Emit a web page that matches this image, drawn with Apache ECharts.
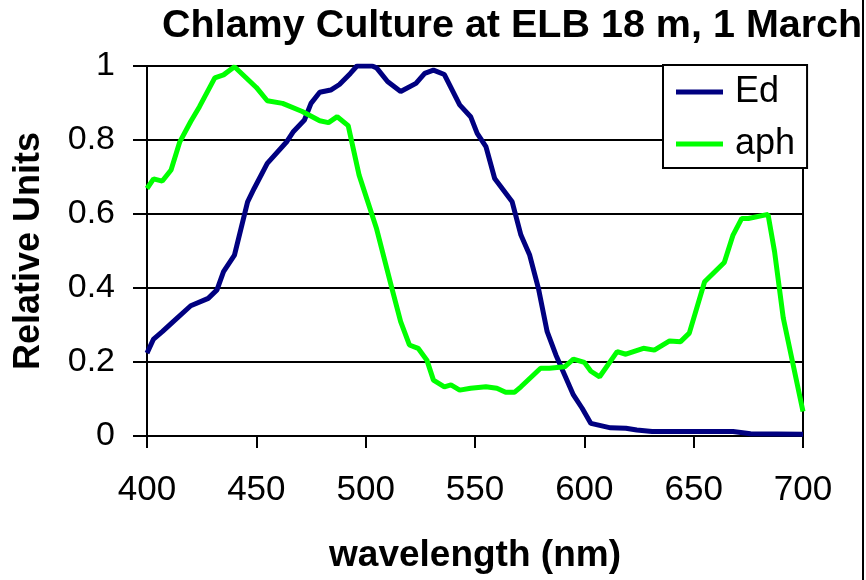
<!DOCTYPE html>
<html>
<head>
<meta charset="utf-8">
<script src="https://cdn.jsdelivr.net/npm/echarts@6/dist/echarts.min.js"></script>
<style>html,body{margin:0;padding:0;background:#fff}#c{width:866px;height:580px}</style>
</head>
<body>
<div id="c"></div>
<script>
var titleText = "Chlamy Culture at ELB 18 m, 1 March";
var xAxisName = "wavelength (nm)";
var yAxisName = "Relative Units";
var xTicks = [400, 450, 500, 550, 600, 650, 700];
var yTicks = [0, 0.2, 0.4, 0.6, 0.8, 1];

var edWavelength = [400,403,407,412,420,428,432,435,440,446,449,455,464,467,472,475,479,484,488,493,496,503,505,510,516,523,527,531,536,543,548,551,555,559,567,571,575,579,583,587,591,595,599,603,612,619,624,631,668,676,700];
var edValues = [0.224,0.262,0.282,0.309,0.352,0.372,0.395,0.444,0.489,0.633,0.669,0.737,0.796,0.823,0.854,0.899,0.929,0.935,0.950,0.980,1.000,1.000,0.995,0.958,0.931,0.953,0.980,0.989,0.977,0.895,0.863,0.818,0.782,0.696,0.633,0.543,0.489,0.399,0.282,0.219,0.165,0.111,0.075,0.034,0.022,0.021,0.016,0.012,0.012,0.006,0.005];

var aphWavelength = [400,403,407,411,415,420,424,431,435,440,450,455,462,471,479,483,487,492,497,505,512,516,520,524,528,531,536,539,543,548,555,560,564,568,571,580,584,591,595,600,603,607,615,619,627,632,639,644,648,655,664,668,672,675,684,687,691,700];
var aphValues = [0.669,0.695,0.689,0.719,0.795,0.850,0.890,0.968,0.976,0.998,0.942,0.906,0.899,0.877,0.852,0.847,0.863,0.839,0.705,0.560,0.399,0.309,0.246,0.237,0.205,0.151,0.133,0.138,0.124,0.129,0.133,0.129,0.118,0.118,0.133,0.183,0.183,0.187,0.208,0.199,0.175,0.160,0.228,0.221,0.237,0.232,0.257,0.255,0.278,0.417,0.469,0.543,0.588,0.588,0.599,0.498,0.318,0.066];

function pairs(xs, ys){ return xs.map(function(x,i){ return [x, ys[i]]; }); }

var FONT = "Liberation Sans, Arial, sans-serif";
var chart = echarts.init(document.getElementById('c'), null, {renderer:'canvas'});
chart.setOption({
  animation: false,
  backgroundColor: '#ffffff',
  textStyle: {fontFamily: FONT},
  title: {
    text: titleText, left: 157, top: 1,
    textStyle: {fontFamily: FONT, fontSize: 39.5, fontWeight: 'bold', color: '#000'}
  },
  grid: {left: 147, right: 63, top: 66, bottom: 144, show: true, borderColor: '#000', borderWidth: 2, backgroundColor: 'transparent'},
  legend: {
    orient: 'vertical', left: 663, top: 65,
    backgroundColor: '#fff', borderColor: '#000', borderWidth: 2,
    padding: [9, 12, 6, 13], itemGap: 16,
    itemWidth: 47, itemHeight: 5, icon: 'rect',
    textStyle: {fontFamily: FONT, fontSize: 36, color: '#000', padding: [0,0,0,7]},
    data: ['Ed', 'aph']
  },
  xAxis: {
    type: 'value', min: 400, max: 700, interval: 50,
    name: xAxisName, nameLocation: 'middle', nameGap: 101,
    nameTextStyle: {fontFamily: FONT, fontSize: 37, fontWeight: 'bold', color: '#000'},
    axisLine: {show: true, lineStyle: {color: '#000', width: 2}},
    axisTick: {show: true, inside: false, length: 12, lineStyle: {color: '#000', width: 2}},
    axisLabel: {fontFamily: FONT, fontSize: 35, color: '#000', margin: 37,
      formatter: function(v){ return xTicks.indexOf(v) >= 0 ? String(v) : ''; }},
    splitLine: {show: false}
  },
  yAxis: {
    type: 'value', min: 0, max: 1, interval: 0.2,
    name: yAxisName, nameLocation: 'middle', nameGap: 100, nameRotate: 90,
    nameTextStyle: {fontFamily: FONT, fontSize: 36, fontWeight: 'bold', color: '#000'},
    axisLine: {show: true, lineStyle: {color: '#000', width: 2}},
    axisTick: {show: true, inside: false, length: 14, lineStyle: {color: '#000', width: 2}},
    axisLabel: {fontFamily: FONT, fontSize: 34, color: '#000', margin: 32,
      formatter: function(v){ var r = Math.round(v*10)/10; return String(r); }},
    splitLine: {show: true, lineStyle: {color: '#000', width: 2}}
  },
  graphic: [{
    type: 'line', shape: {x1: 863, y1: 0, x2: 863, y2: 580},
    style: {stroke: '#000', lineWidth: 2}, z: 100
  }],
  series: [
    {name: 'Ed', type: 'line', data: pairs(edWavelength, edValues), showSymbol: false, symbol: 'none',
      lineStyle: {color: '#000080', width: 5}, itemStyle: {color: '#000080'}, z: 3},
    {name: 'aph', type: 'line', data: pairs(aphWavelength, aphValues), showSymbol: false, symbol: 'none',
      lineStyle: {color: '#00ff00', width: 5}, itemStyle: {color: '#00ff00'}, z: 4}
  ]
});
</script>
</body>
</html>
